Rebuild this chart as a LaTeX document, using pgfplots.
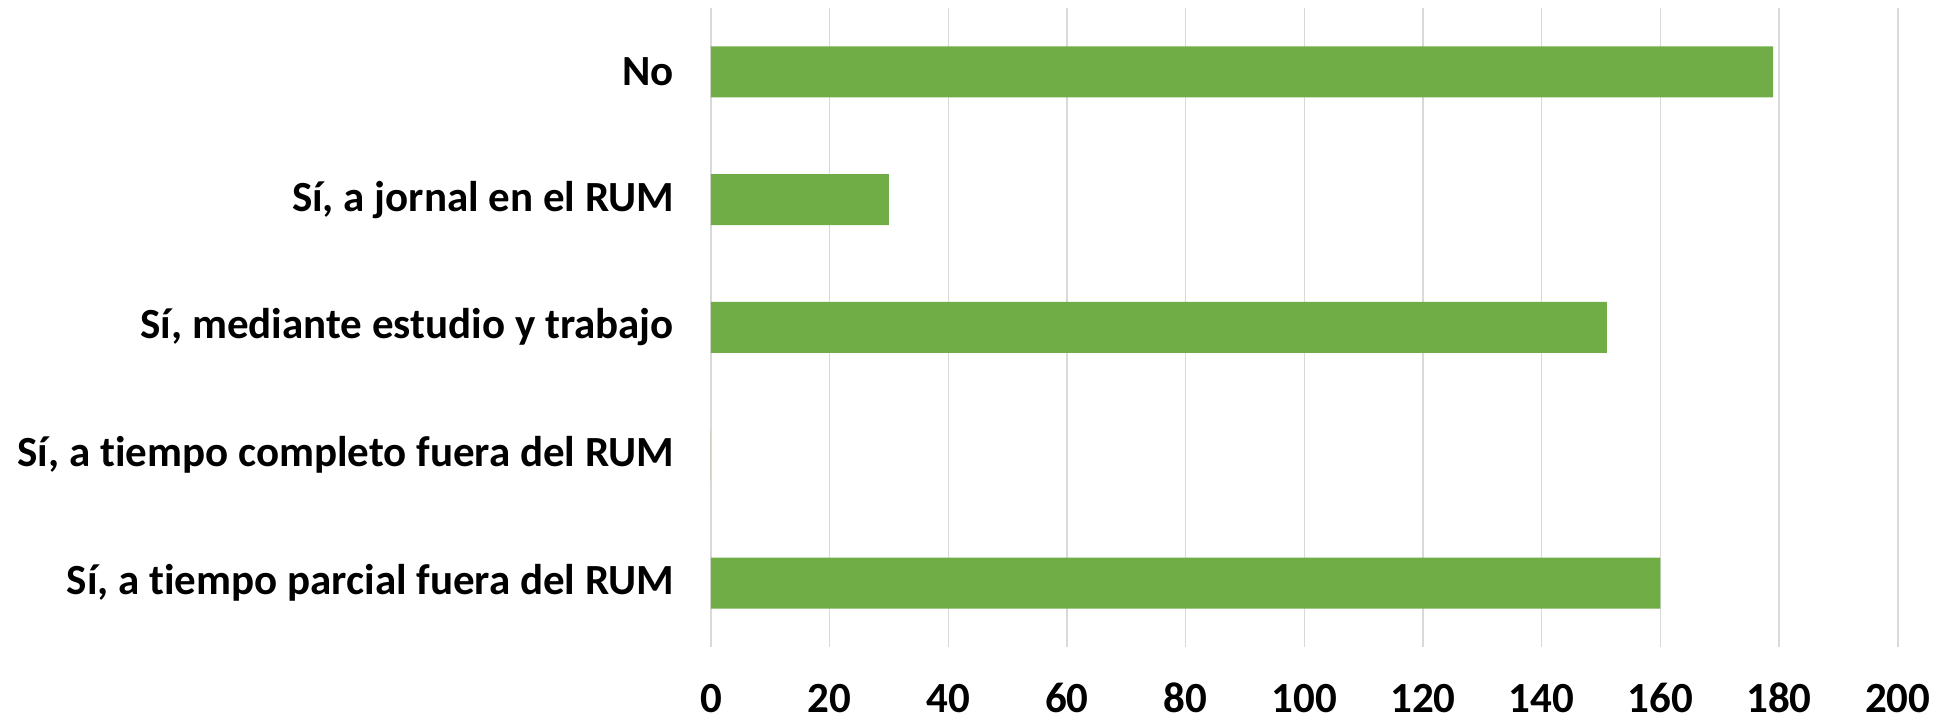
\documentclass[border=0pt]{standalone}
\usepackage{fontspec}
\setmainfont{Carlito}[Ligatures=NoCommon]
\usepackage{pgfplots}
\pgfplotsset{compat=1.18}
\definecolor{barg}{HTML}{70AD47}
\definecolor{gridc}{HTML}{D9D9D9}
\begin{document}
\begin{tikzpicture}
\useasboundingbox (-355.5pt,-37pt) rectangle (618.05pt,323.5pt);
\begin{axis}[
  scale only axis,
  width=593.4pt, height=319.5pt,
  at={(0,0)}, anchor=south west,
  xbar, bar width=25.5pt,
  xmin=0, xmax=200, xtick={0,20,...,200},
  ymin=-0.5, ymax=4.5, ytick={0,1,2,3,4},
  yticklabels={{Sí, a tiempo parcial fuera del RUM}, {Sí, a tiempo completo fuera del RUM}, {Sí, mediante estudio y trabajo}, {Sí, a jornal en el RUM}, {No}},
  axis line style={draw=none},
  major tick length=0pt,
  xmajorgrids, grid style={gridc, line width=0.8pt},
  /pgf/number format/assume math mode=true,
  tick label style={font=\bfseries\fontsize{21.5}{25}\selectfont, text=black},
  xticklabel style={anchor=base, yshift=-33pt},
  yticklabel style={xshift=-15pt},
]
\addplot[fill=barg, draw=none] coordinates {(160,0) (0,1) (151,2) (30,3) (179,4)};
\end{axis}
\end{tikzpicture}
\end{document}
